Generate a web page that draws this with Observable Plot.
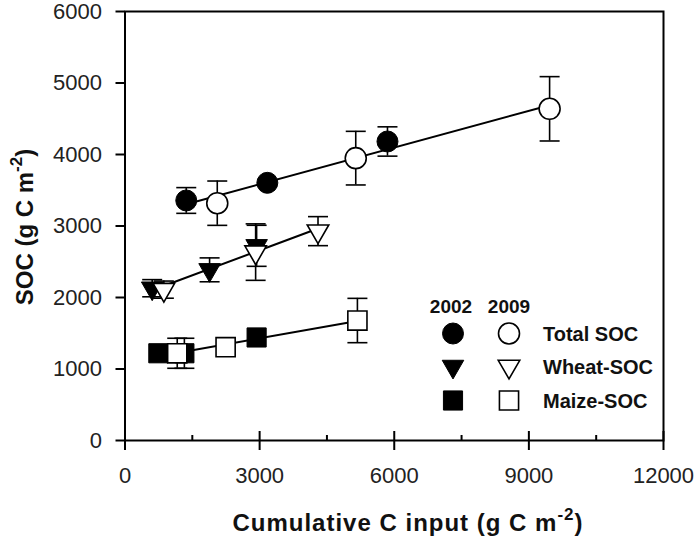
<!DOCTYPE html>
<html><head><meta charset="utf-8">
<script src="https://cdn.jsdelivr.net/npm/d3@7"></script>
<script src="https://cdn.jsdelivr.net/npm/@observablehq/plot@0.6"></script>
<style>
body{margin:0;background:#fff;}
#chart{position:relative;width:700px;height:537px;}
</style>
</head><body><div id="chart"></div>
<script>
// ---- Data ----
const xTicks = [0, 3000, 6000, 9000, 12000];
const xMinorTicks = [1500, 4500, 7500, 10500];
const yTicks = [0, 1000, 2000, 3000, 4000, 5000, 6000];

const totalX2002 = [1365, 3172, 5849];
const totalY2002 = [3357, 3604, 4182];
const totalE2002 = [180, 0, 205];
const totalX2009 = [2056, 5142, 9462];
const totalY2009 = [3319, 3949, 4639];
const totalE2009 = [310, 375, 450];

const wheatX2002 = [606, 1885, 2933];
const wheatY2002 = [2130, 2387, 2723];
const wheatE2002 = [120, 167, 287];
const wheatX2009 = [866, 2911, 4301];
const wheatY2009 = [2110, 2635, 2928];
const wheatE2009 = [120, 395, 203];

const maizeX2002 = [743, 1323, 2933];
const maizeY2002 = [1220, 1220, 1441];
const maizeE2002 = [0, 210, 0];
const maizeX2009 = [1164, 2242, 5179];
const maizeY2009 = [1220, 1305, 1678];
const maizeE2009 = [210, 0, 310];

const legendYears = ["2002", "2009"];
const legendLabels = ["Total SOC", "Wheat-SOC", "Maize-SOC"];

// ---- Build rows ----
function rows(group, year, xs, ys, es) {
  return xs.map((x, i) => ({group, year, x, y: ys[i], e: es[i]}));
}
const data = [
  ...rows("Total", 2002, totalX2002, totalY2002, totalE2002),
  ...rows("Total", 2009, totalX2009, totalY2009, totalE2009),
  ...rows("Wheat", 2002, wheatX2002, wheatY2002, wheatE2002),
  ...rows("Wheat", 2009, wheatX2009, wheatY2009, wheatE2009),
  ...rows("Maize", 2002, maizeX2002, maizeY2002, maizeE2002),
  ...rows("Maize", 2009, maizeX2009, maizeY2009, maizeE2009)
];
const errRows = data.filter(d => d.e > 0);

// ---- Symbols ----
const capSymbol = {
  draw(ctx, size) { const h = Math.sqrt(size / Math.PI); ctx.moveTo(-h, 0); ctx.lineTo(h, 0); }
};
const triangleDown = {
  draw(ctx, size) {
    const y = Math.sqrt(size / (Math.sqrt(3) * 3));
    const s = Math.sqrt(3) * y;
    ctx.moveTo(0, 2 * y); ctx.lineTo(-s, -y); ctx.lineTo(s, -y); ctx.closePath();
  }
};
const shapeOf = {Total: {symbol: "circle", r: 10.5}, Wheat: {symbol: triangleDown, r: 8}, Maize: {symbol: "square", r: 10.8}};
const groups = ["Total", "Wheat", "Maize"];

const marks = [];
marks.push(Plot.linearRegressionY(data, {x: "x", y: "y", z: "group", stroke: "black", strokeWidth: 2, ci: 0}));
marks.push(Plot.ruleX(errRows, {x: "x", y1: d => d.y - d.e, y2: d => d.y + d.e, stroke: "black", strokeWidth: 1.6}));
marks.push(Plot.dot(errRows, {x: "x", y: d => d.y + d.e, symbol: capSymbol, r: 10, stroke: "black", strokeWidth: 1.6}));
marks.push(Plot.dot(errRows, {x: "x", y: d => d.y - d.e, symbol: capSymbol, r: 10, stroke: "black", strokeWidth: 1.6}));
for (const g of groups) {
  marks.push(Plot.dot(data.filter(d => d.group === g && d.year === 2002),
    {x: "x", y: "y", symbol: shapeOf[g].symbol, r: shapeOf[g].r, fill: "black", stroke: "black", strokeWidth: 1}));
}
for (const g of groups) {
  marks.push(Plot.dot(data.filter(d => d.group === g && d.year === 2009),
    {x: "x", y: "y", symbol: shapeOf[g].symbol, r: shapeOf[g].r, fill: "white", stroke: "black", strokeWidth: 1.6}));
}

// axes
const blank = () => "";
marks.push(Plot.frame({stroke: "black", strokeWidth: 2}));
marks.push(Plot.axisY(yTicks, {tickSize: 9, strokeWidth: 2, tickFormat: blank, label: null}));
marks.push(Plot.axisY(yTicks, {tickSize: 0, tickPadding: 23, tickFormat: "d", fontSize: 22, fill: "#222", label: null}));
marks.push(Plot.axisX(xTicks, {tickSize: 19, dy: -9, strokeWidth: 2, tickFormat: blank, label: null}));
marks.push(Plot.axisX(xMinorTicks, {tickSize: 5, dy: -5, strokeWidth: 2, tickFormat: blank, label: null}));
marks.push(Plot.axisX(xTicks, {tickSize: 0, tickPadding: 27, tickFormat: "d", fontSize: 22, fill: "#222", label: null}));

// legend (positioned relative to the frame's top-left corner)
const legX0 = 326, legColGap = 58, legY0 = 295, legRow0 = 322, legRowGap = 33, legTextX = 418;
legendYears.forEach((yr, j) => {
  marks.push(Plot.text([yr], {frameAnchor: "top-left", dx: legX0 + j * legColGap, dy: legY0, text: d => d,
    textAnchor: "middle", lineAnchor: "middle", fontSize: 19, fontWeight: "bold", fill: "#111"}));
});
legendLabels.forEach((lab, i) => {
  const g = groups[i];
  const dyRow = legRow0 + i * legRowGap + (g === "Maize" ? 1 : 0);
  marks.push(Plot.dot([lab], {frameAnchor: "top-left", dx: legX0 + 2, dy: dyRow, symbol: shapeOf[g].symbol, r: shapeOf[g].r, fill: "black", stroke: "black", strokeWidth: 1}));
  marks.push(Plot.dot([lab], {frameAnchor: "top-left", dx: legX0 + legColGap, dy: dyRow, symbol: shapeOf[g].symbol, r: shapeOf[g].r, fill: "white", stroke: "black", strokeWidth: 1.6}));
  marks.push(Plot.text([lab], {frameAnchor: "top-left", dx: legTextX, dy: dyRow + 1, text: d => d,
    textAnchor: "start", lineAnchor: "middle", fontSize: 20, fontWeight: "bold", fill: "#111"}));
});

const svg = Plot.plot({
  width: 700, height: 537,
  marginLeft: 124.5, marginRight: 37, marginTop: 11, marginBottom: 97,
  style: {fontFamily: "'Liberation Sans', Arial, sans-serif", background: "white", color: "black", overflow: "visible"},
  x: {domain: [0, 12000], axis: null},
  y: {domain: [0, 6000], axis: null},
  marks
});
document.getElementById("chart").append(svg);

// axis titles with superscripts
const s = d3.select(svg);
const xt = s.append("text")
  .attr("x", 408).attr("y", 531)
  .attr("text-anchor", "middle")
  .attr("font-family", "'Liberation Sans', Arial, sans-serif")
  .attr("font-size", 24).attr("font-weight", "bold").attr("fill", "#111")
  .attr("letter-spacing", 1);
xt.append("tspan").text("Cumulative C input (g C m");
xt.append("tspan").attr("dy", -11).attr("font-size", 17).text("-2");
xt.append("tspan").attr("dy", 11).text(")");

const yt = s.append("text")
  .attr("transform", "translate(33,227) rotate(-90)")
  .attr("text-anchor", "middle")
  .attr("font-family", "'Liberation Sans', Arial, sans-serif")
  .attr("font-size", 24).attr("font-weight", "bold").attr("fill", "#111");
yt.append("tspan").text("SOC (g C m");
yt.append("tspan").attr("dy", -11).attr("font-size", 17).text("-2");
yt.append("tspan").attr("dy", 11).text(")");
</script>
</body></html>
